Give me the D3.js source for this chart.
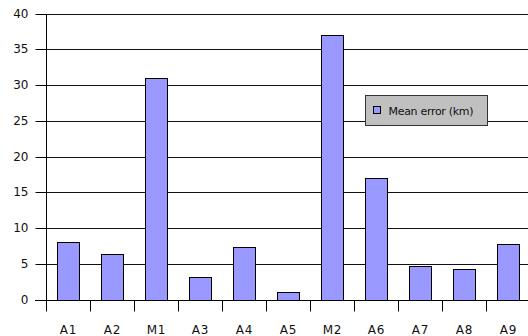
<!DOCTYPE html>
<html>
<head>
<meta charset="utf-8">
<script src="https://cdn.jsdelivr.net/npm/d3@7"></script>
<style>
  html, body { margin: 0; padding: 0; background: #fff; }
  svg { display: block; font-family: "DejaVu Sans", sans-serif; }
</style>
</head>
<body>
<svg id="chart" width="528" height="336"></svg>
<script>
// Mean error per site, in km
const categories = ["A1", "A2", "M1", "A3", "A4", "A5", "M2", "A6", "A7", "A8", "A9"];
const meanError = [8, 6.3, 31, 3.2, 7.4, 1, 37, 17, 4.7, 4.3, 7.8];
const yTicks = [0, 5, 10, 15, 20, 25, 30, 35, 40];
const seriesName = "Mean error (km)";

const svg = d3.select("#chart");
const plotLeft = 46, plotRight = 530, plotTop = 13.5, plotBottom = 299.5;

const x = d3.scaleBand().domain(categories).range([plotLeft, plotRight]).paddingInner(0.5).paddingOuter(0.25);
const y = d3.scaleLinear().domain([0, 40]).range([plotBottom, plotTop]);
const py = v => Math.round(y(v)) + 0.5;

// horizontal gridlines
svg.append("g")
  .selectAll("line")
  .data(yTicks)
  .join("line")
  .attr("x1", plotLeft).attr("x2", 528)
  .attr("y1", d => py(d)).attr("y2", d => py(d))
  .attr("stroke", "#111").attr("stroke-width", 1);

// bars
svg.append("g")
  .selectAll("rect")
  .data(meanError)
  .join("rect")
  .attr("x", (d, i) => Math.round(x(categories[i])) + 0.5)
  .attr("y", d => py(d))
  .attr("width", x.bandwidth())
  .attr("height", d => py(0) - py(d))
  .attr("fill", "#9999ff")
  .attr("stroke", "#000")
  .attr("stroke-width", 1);

// y axis
const yAxis = svg.append("g")
  .attr("transform", `translate(${plotLeft + 0.5},0)`)
  .call(d3.axisLeft(y).tickValues(yTicks).tickSize(11).tickPadding(7).tickSizeOuter(0));
yAxis.select(".domain").attr("d", `M0,${py(40)}V${py(0) + 11}`).attr("stroke", "#000");
yAxis.selectAll(".tick").attr("transform", d => `translate(0,${py(d)})`);
yAxis.selectAll(".tick line").attr("stroke", "#000");
yAxis.selectAll("text").attr("font-size", 12).attr("font-family", "DejaVu Sans, sans-serif").attr("fill", "#111");

// x axis: category labels with separator ticks between bands
const xAxis = svg.append("g").attr("transform", `translate(0,${py(0)})`);
xAxis.append("line").attr("x1", plotLeft - 11).attr("x2", 528).attr("stroke", "#000");
const bounds = d3.range(categories.length).map(i => x.step() * i + plotLeft);
xAxis.selectAll("line.sep")
  .data(bounds.slice(1))
  .join("line")
  .attr("class", "sep")
  .attr("x1", d => Math.round(d) + 0.5).attr("x2", d => Math.round(d) + 0.5)
  .attr("y1", 0).attr("y2", 11)
  .attr("stroke", "#000");
xAxis.selectAll("text")
  .data(categories)
  .join("text")
  .attr("x", d => x(d) + x.bandwidth() / 2 + 0.5)
  .attr("y", 33.5)
  .attr("text-anchor", "middle")
  .attr("font-size", 12)
  .attr("letter-spacing", 0.8)
  .attr("fill", "#111")
  .text(d => d);

// legend
const legend = svg.append("g").attr("transform", "translate(365.5,95.5)");
legend.append("rect").attr("width", 122).attr("height", 30)
  .attr("fill", "#c0c0c0").attr("stroke", "#333");
legend.append("rect").attr("x", 8).attr("y", 11).attr("width", 7).attr("height", 7)
  .attr("fill", "#9999ff").attr("stroke", "#000");
legend.append("text").attr("x", 23).attr("y", 19)
  .attr("font-size", 11).attr("fill", "#111").attr("letter-spacing", -0.3)
  .text(seriesName);
</script>
</body>
</html>
